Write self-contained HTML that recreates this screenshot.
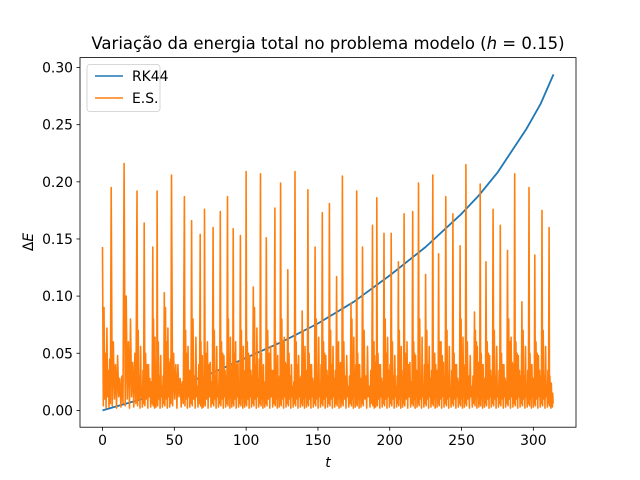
<!DOCTYPE html>
<html><head><meta charset="utf-8"><style>
body{margin:0;background:#fff}
svg{display:block;font-family:"DejaVu Sans","Liberation Sans",sans-serif}
</style></head><body>
<svg id="chart" width="640" height="480" viewBox="0 0 640 480">
<rect width="640" height="480" fill="#fff"/>
<g id="plot"></g>
<rect x="80" y="57.6" width="496" height="369.6" fill="none" stroke="#000" stroke-width="0.8"/>
<g id="ticks" font-size="13.9" fill="#000"></g>
<text x="328" y="49" font-size="16.5" text-anchor="middle">Variação da energia total no problema modelo (<tspan font-style="italic">h</tspan> = 0.15)</text>
<text x="328" y="467" font-size="13.9" font-style="italic" text-anchor="middle">t</text>
<text x="0" y="0" font-size="13.9" text-anchor="middle" transform="translate(33,242) rotate(-90)">Δ<tspan font-style="italic">E</tspan></text>
<g>
<rect x="87" y="64.5" width="73" height="47" rx="3" fill="#fff" fill-opacity="0.8" stroke="#ccc" stroke-width="0.8"/>
<line x1="95" y1="76" x2="123" y2="76" stroke="#1f77b4" stroke-width="1.5"/>
<text x="132" y="81" font-size="13.9">RK44</text>
<line x1="95" y1="98" x2="123" y2="98" stroke="#ff7f0e" stroke-width="1.5"/>
<text x="132" y="103" font-size="13.9">E.S.</text>
</g>
</svg>
<script>
const rkT=[0,25,50,75,100,125,150,175,200,225,250,262,275,285,295,305,314];
const rkV=[0,0.009,0.020,0.032,0.046,0.060,0.076,0.095,0.118,0.143,0.172,0.188,0.208,0.227,0.246,0.268,0.294];
const peakT=[0,6,15,24,29,35,38,43,48,57,62,68,71,77,82,87,91,96,100,105,110,114,120,124,129,134,139,143,148,153,158,163,167,173,177,181,188,191,196,201,206,210,216,220,225,230,234,239,244,249,253,259,263,267,272,277,282,287,292,297,301,306,311];
const peakV=[0.143,0.195,0.216,0.192,0.164,0.143,0.192,0.103,0.206,0.187,0.166,0.154,0.176,0.160,0.174,0.187,0.159,0.153,0.209,0.108,0.207,0.151,0.177,0.199,0.123,0.209,0.087,0.193,0.143,0.173,0.181,0.117,0.205,0.094,0.192,0.143,0.162,0.186,0.155,0.155,0.130,0.172,0.174,0.199,0.119,0.206,0.137,0.187,0.172,0.144,0.215,0.086,0.198,0.130,0.176,0.162,0.140,0.207,0.095,0.195,0.136,0.175,0.160];
const gapMid=[0.09,0.06,0.10,0.07,0.05,0.08,0.06,0.09,0.05,0.07,0.08,0.06,0.05,0.07,0.06,0.08,0.05,0.07,0.06,0.09,0.05,0.07,0.06,0.08,0.05,0.06,0.07,0.05,0.08,0.06,0.07,0.05,0.06,0.08,0.05,0.07,0.06,0.05,0.08,0.06,0.07,0.05,0.06,0.08,0.07,0.05,0.06,0.07,0.05,0.08,0.06,0.07,0.05,0.06,0.07,0.05,0.08,0.06,0.07,0.05,0.06,0.07,0.03];
const gapMid2=[0.05,0.04,0.06,0.03,0.04,0.05,0.03,0.06,0.04,0.05,0.03,0.04,0.06,0.03,0.05,0.04,0.06,0.03,0.05,0.04,0.03,0.05,0.04,0.06,0.03,0.04,0.05,0.04,0.03,0.05,0.04,0.06,0.03,0.05,0.04,0.03,0.06,0.04,0.05,0.03,0.04,0.06,0.05,0.03,0.04,0.05,0.06,0.03,0.04,0.05,0.03,0.06,0.04,0.05,0.03,0.04,0.06,0.05,0.03,0.04,0.05,0.03,0.02];
const xTicks=[0,50,100,150,200,250,300];
const yTicks=[0,0.05,0.10,0.15,0.20,0.25,0.30];
const X=t=>80+(t+15.7)/345.4*496;
const Y=v=>427.2-(v+0.0147)/0.3234*369.6;
const ns="http://www.w3.org/2000/svg";
const plot=document.getElementById('plot');
let pts=[];
for(let i=0;i<peakT.length;i++){
  const t=peakT[i];
  pts.push([t,peakV[i]]);
  const nt=i+1<peakT.length?peakT[i+1]:314;
  const d=nt-t, a=gapMid[i], b=gapMid2[i];
  const seq=[0.004,a,0.01,b,0.002,a*0.8,0.012,b*0.7,0.003,a*0.5,0.006];
  seq.forEach((v,k)=>pts.push([t+d*(k+1)/(seq.length+1),v]));
}
const es=document.createElementNS(ns,'polyline');
es.setAttribute('points',pts.map(p=>X(p[0]).toFixed(1)+','+Y(p[1]).toFixed(1)).join(' '));
es.setAttribute('fill','none');es.setAttribute('stroke','#ff7f0e');es.setAttribute('stroke-width','1.6');es.setAttribute('stroke-linejoin','round');


const rk=document.createElementNS(ns,'polyline');
rk.setAttribute('points',rkT.map((t,i)=>X(t).toFixed(1)+','+Y(rkV[i]).toFixed(1)).join(' '));
rk.setAttribute('fill','none');rk.setAttribute('stroke','#1f77b4');rk.setAttribute('stroke-width','1.8');rk.setAttribute('stroke-linejoin','round');


plot.appendChild(rk);plot.appendChild(es);
const tg=document.getElementById('ticks');
xTicks.forEach(t=>{
  const l=document.createElementNS(ns,'line');
  l.setAttribute('x1',X(t));l.setAttribute('x2',X(t));l.setAttribute('y1',427.2);l.setAttribute('y2',430.7);l.setAttribute('stroke','#000');l.setAttribute('stroke-width','0.8');
  
  
  tg.appendChild(l);
  const tx=document.createElementNS(ns,'text');
  tx.setAttribute('x',X(t));tx.setAttribute('y',445);tx.setAttribute('text-anchor','middle');tx.textContent=t;
  
  
  tg.appendChild(tx);
});
yTicks.forEach(v=>{
  const l=document.createElementNS(ns,'line');
  l.setAttribute('x1',76.5);l.setAttribute('x2',80);l.setAttribute('y1',Y(v));l.setAttribute('y2',Y(v));l.setAttribute('stroke','#000');l.setAttribute('stroke-width','0.8');
  
  
  tg.appendChild(l);
  const tx=document.createElementNS(ns,'text');
  tx.setAttribute('x',73);tx.setAttribute('y',Y(v)+5);tx.setAttribute('text-anchor','end');tx.textContent=v.toFixed(2);
  
  
  tg.appendChild(tx);
});
</script>
</body></html>
